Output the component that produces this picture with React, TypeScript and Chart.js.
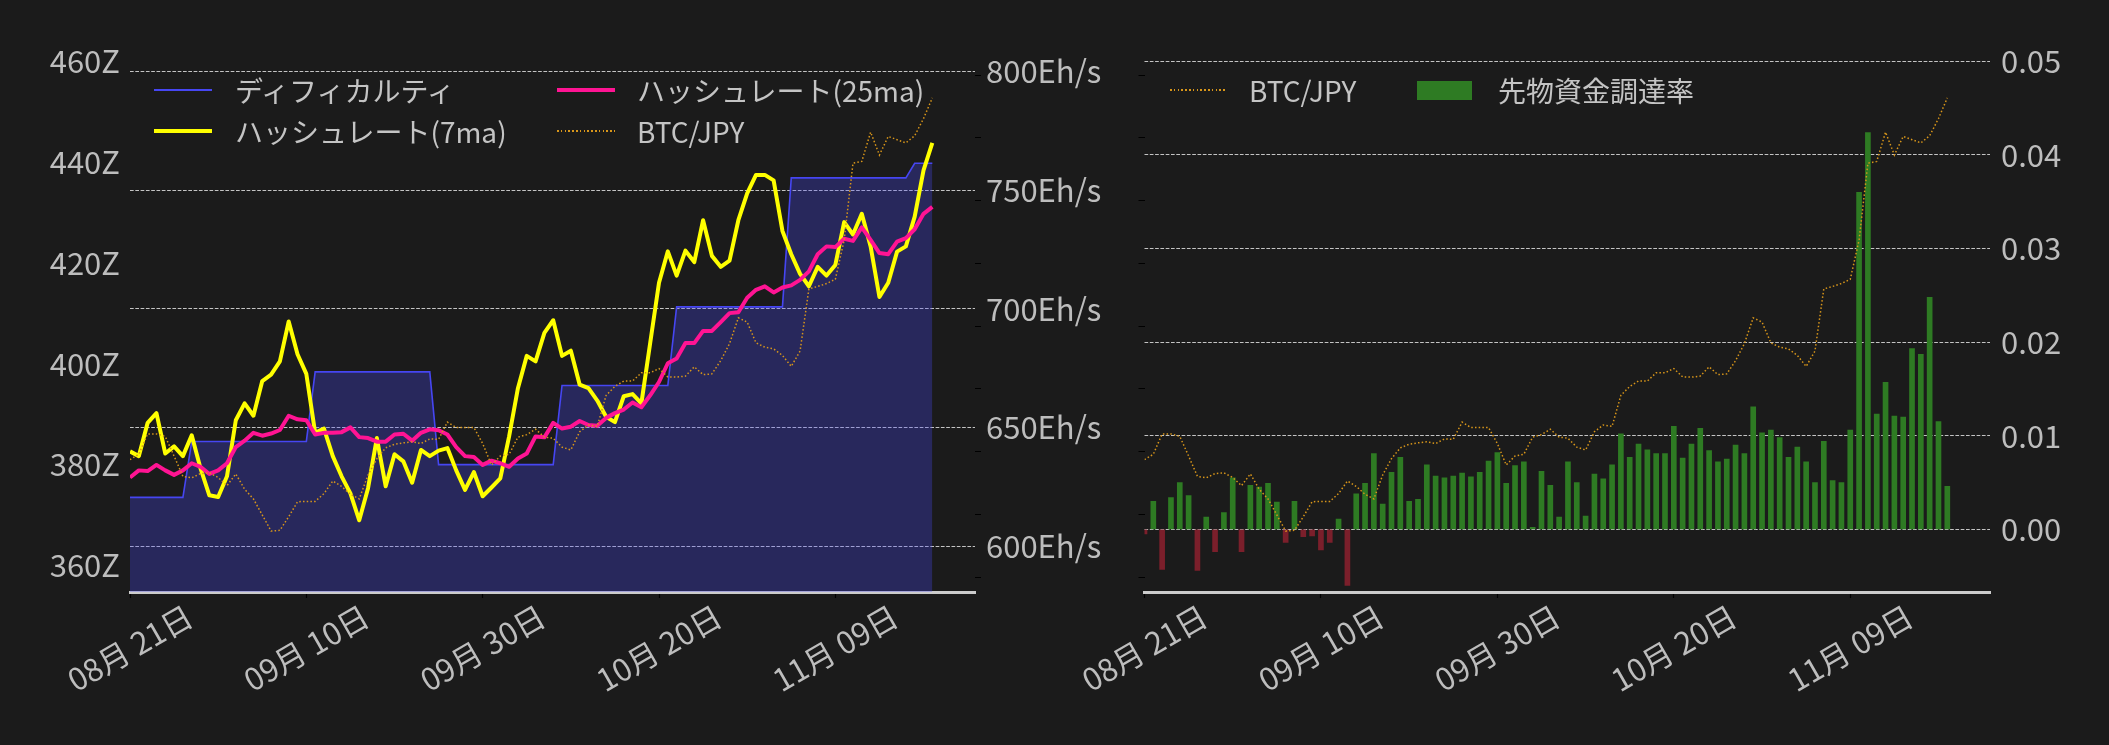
import React, { useEffect, useRef } from 'react';
import Chart from 'chart.js/auto';

const FONT = "'Noto Sans CJK JP', 'Noto Sans', sans-serif";
const BG = '#1b1b1b';
const TICK = '#bdbdbd';
const LEGEND_TEXT = '#c4c4c4';
const GRID = 'rgba(215, 215, 215, 0.9)';
const AXIS = '#cccccc';
const BLUE = '#4646f2';
const FILL = 'rgba(74, 74, 244, 0.3)';
const YELLOW = '#ffff00';
const PINK = '#ff1493';
const ORANGE = '#d8961a';
const GREEN = '#2e7b23';
const RED = '#7b1f2b';

// x axis = days from 08-21
const tickDays = [0, 20, 40, 60, 80];
const tickLabels = ['08月 21日', '09月 10日', '09月 30日', '10月 20日', '11月 09日'];

// ディフィカルティ (Z)
const difficulty = [
  373.5, 373.5, 373.5, 373.5, 373.5, 373.5, 373.5,
  384.6, 384.6, 384.6, 384.6, 384.6, 384.6, 384.6, 384.6, 384.6, 384.6, 384.6, 384.6, 384.6, 384.6,
  398.4, 398.4, 398.4, 398.4, 398.4, 398.4, 398.4, 398.4, 398.4, 398.4, 398.4, 398.4, 398.4, 398.4,
  380.0, 380.0, 380.0, 380.0, 380.0, 380.0, 380.0, 380.0, 380.0, 380.0, 380.0, 380.0, 380.0, 380.0,
  395.7, 395.7, 395.7, 395.7, 395.7, 395.7, 395.7, 395.7, 395.7, 395.7, 395.7, 395.7, 395.7,
  411.3, 411.3, 411.3, 411.3, 411.3, 411.3, 411.3, 411.3, 411.3, 411.3, 411.3, 411.3, 411.3,
  436.9, 436.9, 436.9, 436.9, 436.9, 436.9, 436.9, 436.9, 436.9, 436.9, 436.9, 436.9, 436.9, 436.9,
  439.8, 439.8, 439.8,
];

// ハッシュレート 7日移動平均 (Eh/s)
const hashrate7 = [
  640.0, 638.0, 652.0, 656.1, 639.1, 642.1, 638.0, 646.8, 632.8, 621.5,
  620.8, 629.5, 653.1, 660.2, 655.0, 669.6, 672.3, 677.9, 694.7, 680.9,
  672.6, 647.8, 649.6, 638.0, 629.5, 622.3, 611.0, 624.5, 645.6, 625.3,
  638.8, 635.8, 626.8, 640.6, 638.0, 640.3, 641.4, 632.0, 623.8, 631.3,
  621.1, 624.8, 628.6, 646.3, 666.6, 680.2, 677.9, 689.9, 695.2, 680.2,
  682.4, 668.1, 666.6, 661.4, 654.6, 652.3, 663.2, 664.1, 660.2, 685.6,
  711.0, 724.2, 714.0, 724.5, 719.7, 737.3, 722.3, 717.7, 720.3, 737.3,
  748.6, 756.4, 756.4, 754.1, 732.8, 723.0, 714.7, 709.5, 717.7, 714.0,
  718.5, 736.5, 731.3, 740.0, 726.3, 705.0, 711.0, 724.1, 726.3, 738.8,
  758.3, 769.9,
];

// ハッシュレート 25日移動平均 (Eh/s)
const hashrate25 = [
  629.0, 632.0, 631.7, 634.3, 632.0, 630.1, 632.0, 635.0, 633.5, 630.5,
  632.0, 635.0, 641.8, 644.5, 647.8, 646.6, 647.5, 649.0, 655.0, 653.5,
  653.1, 647.1, 647.8, 647.8, 648.1, 650.1, 646.0, 645.6, 644.1, 644.1,
  647.1, 647.4, 644.5, 647.8, 649.3, 648.9, 647.1, 641.8, 638.0, 637.6,
  634.3, 636.1, 635.0, 633.5, 637.0, 639.1, 646.3, 645.9, 652.0, 649.6,
  650.4, 652.8, 651.1, 650.8, 654.1, 656.1, 657.6, 660.6, 658.6, 663.6,
  669.2, 677.1, 679.1, 685.6, 685.6, 690.7, 690.7, 694.4, 698.2, 698.6,
  704.7, 708.0, 709.5, 706.9, 709.0, 709.9, 712.2, 715.8, 723.0, 726.3,
  726.0, 729.5, 728.6, 734.3, 729.0, 723.5, 723.0, 728.3, 729.8, 733.5,
  740.0, 742.9,
];

// BTC/JPY (百万円)
const btcJpy = [
  8.872, 8.957, 9.282, 9.282, 9.242, 8.929, 8.605, 8.582, 8.650, 8.661,
  8.587, 8.457, 8.644, 8.400, 8.246, 7.990, 7.734, 7.745, 7.962, 8.201,
  8.206, 8.206, 8.331, 8.531, 8.445, 8.320, 8.246, 8.627, 8.889, 9.060,
  9.117, 9.139, 9.156, 9.128, 9.202, 9.196, 9.469, 9.384, 9.384, 9.384,
  9.128, 8.787, 8.929, 8.957, 9.230, 9.270, 9.356, 9.230, 9.213, 9.071,
  9.026, 9.316, 9.424, 9.401, 9.896, 10.038, 10.124, 10.124, 10.255, 10.255,
  10.323, 10.190, 10.186, 10.203, 10.351, 10.226, 10.238, 10.448, 10.721, 11.131,
  11.063, 10.733, 10.664, 10.636, 10.533, 10.357, 10.602, 11.592, 11.632, 11.677,
  11.745, 12.371, 13.595, 13.623, 14.090, 13.726, 14.022, 13.970, 13.919, 14.033,
  14.306, 14.636,
];

// 先物資金調達率
const fundingRate = [
  -0.0005, 0.0030, -0.0043, 0.0034, 0.0050, 0.0036, -0.0044, 0.0013, -0.0024, 0.0018,
  0.0055, -0.0024, 0.0047, 0.0045, 0.0049, 0.0029, -0.0014, 0.0030, -0.0008, -0.0007,
  -0.0022, -0.0014, 0.0011, -0.0060, 0.0038, 0.0049, 0.0081, 0.0027, 0.0061, 0.0077,
  0.0030, 0.0032, 0.0069, 0.0057, 0.0055, 0.0057, 0.0060, 0.0056, 0.0061, 0.0073,
  0.0082, 0.0049, 0.0068, 0.0072, 0.0002, 0.0062, 0.0047, 0.0013, 0.0072, 0.0050,
  0.0014, 0.0059, 0.0054, 0.0069, 0.0102, 0.0077, 0.0091, 0.0085, 0.0081, 0.0081,
  0.0110, 0.0076, 0.0091, 0.0108, 0.0084, 0.0072, 0.0075, 0.0090, 0.0081, 0.0131,
  0.0103, 0.0106, 0.0098, 0.0077, 0.0088, 0.0072, 0.0050, 0.0094, 0.0052, 0.0050,
  0.0106, 0.0360, 0.0424, 0.0123, 0.0157, 0.0121, 0.0120, 0.0193, 0.0187, 0.0248,
  0.0115, 0.0046,
];

const toXY = (arr: number[]) => arr.map((y, i) => ({ x: i, y }));

const TICK_SIZE = 31;
const LEGEND_SIZE = 28;

// matplotlib style rotated labels, centred on the tick
const dateLabels = {
  id: 'dateLabels',
  afterDraw(chart: any) {
    const xs = chart.scales.x;
    const ctx = chart.ctx;
    ctx.save();
    ctx.fillStyle = TICK;
    ctx.font = `${TICK_SIZE}px ${FONT}`;
    ctx.textAlign = 'center';
    ctx.textBaseline = 'middle';
    tickDays.forEach((d, i) => {
      ctx.save();
      ctx.translate(xs.getPixelForValue(d), xs.top + 56);
      ctx.rotate(-Math.PI / 6);
      ctx.fillText(tickLabels[i], 0, 0);
      ctx.restore();
    });
    ctx.restore();
  },
};

const xScale = () => ({
  type: 'linear' as const,
  min: 0,
  max: 95.84,
  offset: false,
  border: { display: true, color: AXIS, width: 3 },
  grid: { offset: false, drawOnChartArea: false, drawTicks: true, tickLength: 6, tickColor: '#000', tickWidth: 1.2 },
  ticks: { display: false, stepSize: 20, includeBounds: false },
  afterFit: (s: any) => { s.height = 153; },
});

const btcScale = (position: 'left' | 'right', width: number) => ({
  type: 'linear' as const,
  position,
  weight: 0,
  min: 6.7626,
  max: 15.399,
  border: { display: false },
  grid: { drawOnChartArea: false, drawTicks: true, tickLength: 6, tickColor: '#000', lineWidth: 1 },
  ticks: { display: false, stepSize: 1, includeBounds: false },
  afterFit: (s: any) => { s.width = width; },
});

const tickFont = { size: TICK_SIZE, family: FONT };

const btcLine = {
  label: 'BTC/JPY', data: toXY(btcJpy), yAxisID: 'btc', order: 0,
  borderColor: ORANGE, borderWidth: 1.5, borderDash: [1.5, 2.2], pointRadius: 0,
};

const HashChart: React.FC = () => {
  const ref = useRef<HTMLCanvasElement>(null);

  useEffect(() => {
    if (!ref.current) return;
    const chart = new Chart(ref.current, {
      type: 'line',
      data: {
        datasets: [
          btcLine,
          {
            label: 'ハッシュレート(25ma)', data: toXY(hashrate25), yAxisID: 'hr', order: 1,
            borderColor: PINK, borderWidth: 4, borderJoinStyle: 'round', pointRadius: 0,
          },
          {
            label: 'ハッシュレート(7ma)', data: toXY(hashrate7), yAxisID: 'hr', order: 2,
            borderColor: YELLOW, borderWidth: 4, borderJoinStyle: 'round', pointRadius: 0,
          },
          {
            label: 'ディフィカルティ', data: toXY(difficulty), yAxisID: 'z', order: 3,
            borderColor: BLUE, borderWidth: 1.6, backgroundColor: FILL, fill: 'start', pointRadius: 0,
          },
        ],
      } as any,
      options: {
        animation: false,
        responsive: true,
        maintainAspectRatio: false,
        layout: { padding: { top: 50, left: 0, right: 0, bottom: 0 } },
        plugins: { legend: { display: false }, tooltip: { enabled: false } },
        scales: {
          x: xScale(),
          z: {
            type: 'linear', position: 'left', min: 354.72, max: 462.28,
            border: { display: false },
            grid: { display: false, drawTicks: false },
            ticks: { stepSize: 20, includeBounds: false, padding: 10, color: TICK, font: tickFont, callback: (v: any) => `${v}Z` },
            afterFit: (s: any) => { s.width = 130; },
          },
          btc: btcScale('right', 0),
          hr: {
            type: 'linear', position: 'right', weight: 1, min: 580.8, max: 808.97,
            border: { display: false, dash: [3.7, 1.6] },
            grid: { color: GRID, lineWidth: 1, drawTicks: false },
            ticks: { stepSize: 50, includeBounds: false, padding: 11, color: TICK, font: tickFont, callback: (v: any) => `${v}Eh/s` },
            afterFit: (s: any) => { s.width = 155; },
          },
        } as any,
      },
      plugins: [dateLabels],
    });
    return () => chart.destroy();
  }, []);

  return <canvas ref={ref} />;
};

const FundingChart: React.FC = () => {
  const ref = useRef<HTMLCanvasElement>(null);

  useEffect(() => {
    if (!ref.current) return;
    const chart = new Chart(ref.current, {
      type: 'bar',
      data: {
        datasets: [
          { ...btcLine, type: 'line' },
          {
            type: 'bar', label: '先物資金調達率', data: toXY(fundingRate), yAxisID: 'fund', order: 1,
            backgroundColor: fundingRate.map((v) => (v >= 0 ? GREEN : RED)), barThickness: 5,
          },
        ],
      } as any,
      options: {
        animation: false,
        responsive: true,
        maintainAspectRatio: false,
        layout: { padding: { top: 50, left: 0, right: 0, bottom: 0 } },
        plugins: { legend: { display: false }, tooltip: { enabled: false } },
        scales: {
          x: xScale(),
          btc: btcScale('left', 90.5),
          fund: {
            type: 'linear', position: 'right', weight: 1, min: -0.0067, max: 0.05122,
            border: { display: false, dash: [3.7, 1.6] },
            grid: { color: GRID, lineWidth: 1, drawTicks: false },
            ticks: { stepSize: 0.01, includeBounds: false, padding: 11, color: TICK, font: tickFont, callback: (v: any) => Number(v).toFixed(2) },
            afterFit: (s: any) => { s.width = 119; },
          },
        } as any,
      },
      plugins: [dateLabels],
    });
    return () => chart.destroy();
  }, []);

  return <canvas ref={ref} />;
};

type LegendEntry = {
  label: string;
  kind: 'line' | 'dots' | 'patch';
  color: string;
  size: number;
  x: number;
  y: number;
  w: number;
  textX: number;
};

const Legend: React.FC<{ items: LegendEntry[] }> = ({ items }) => (
  <>
    {items.map((it) => {
      const handle: React.CSSProperties = {
        position: 'absolute', left: it.x, width: it.w, top: it.y - it.size / 2, height: it.size,
        background: it.kind === 'dots'
          ? `repeating-linear-gradient(90deg, ${it.color} 0 1.6px, transparent 1.6px 3.8px)`
          : it.color,
      };
      return (
        <React.Fragment key={it.label + it.x}>
          <div style={handle} />
          <span
            style={{
              position: 'absolute', left: it.textX, top: it.y, transform: 'translateY(-50%)',
              fontFamily: FONT, fontSize: LEGEND_SIZE, lineHeight: 1, color: LEGEND_TEXT, whiteSpace: 'nowrap',
            }}
          >
            {it.label}
          </span>
        </React.Fragment>
      );
    })}
  </>
);

const leftLegend: LegendEntry[] = [
  { label: 'ディフィカルティ', kind: 'line', color: BLUE, size: 1.8, x: 154, y: 90, w: 58, textX: 235 },
  { label: 'ハッシュレート(7ma)', kind: 'line', color: YELLOW, size: 4.3, x: 154, y: 131, w: 58, textX: 235 },
  { label: 'ハッシュレート(25ma)', kind: 'line', color: PINK, size: 4.3, x: 557, y: 90, w: 58, textX: 637 },
  { label: 'BTC/JPY', kind: 'dots', color: ORANGE, size: 1.6, x: 557, y: 131, w: 58, textX: 637 },
];

const rightLegend: LegendEntry[] = [
  { label: 'BTC/JPY', kind: 'dots', color: ORANGE, size: 1.6, x: 1170, y: 90, w: 55, textX: 1249 },
  { label: '先物資金調達率', kind: 'patch', color: GREEN, size: 19, x: 1417, y: 90, w: 55, textX: 1498 },
];

const App: React.FC = () => {
  useEffect(() => {
    document.body.style.margin = '0';
    document.body.style.background = BG;
  }, []);

  return (
    <div style={{ position: 'relative', width: 2109, height: 745, background: BG, overflow: 'hidden' }}>
      <div style={{ position: 'absolute', left: 0, top: 0, width: 1130, height: 745 }}>
        <HashChart />
      </div>
      <div style={{ position: 'absolute', left: 1054, top: 0, width: 1055, height: 745 }}>
        <FundingChart />
      </div>
      <Legend items={leftLegend} />
      <Legend items={rightLegend} />
    </div>
  );
};

export default App;
